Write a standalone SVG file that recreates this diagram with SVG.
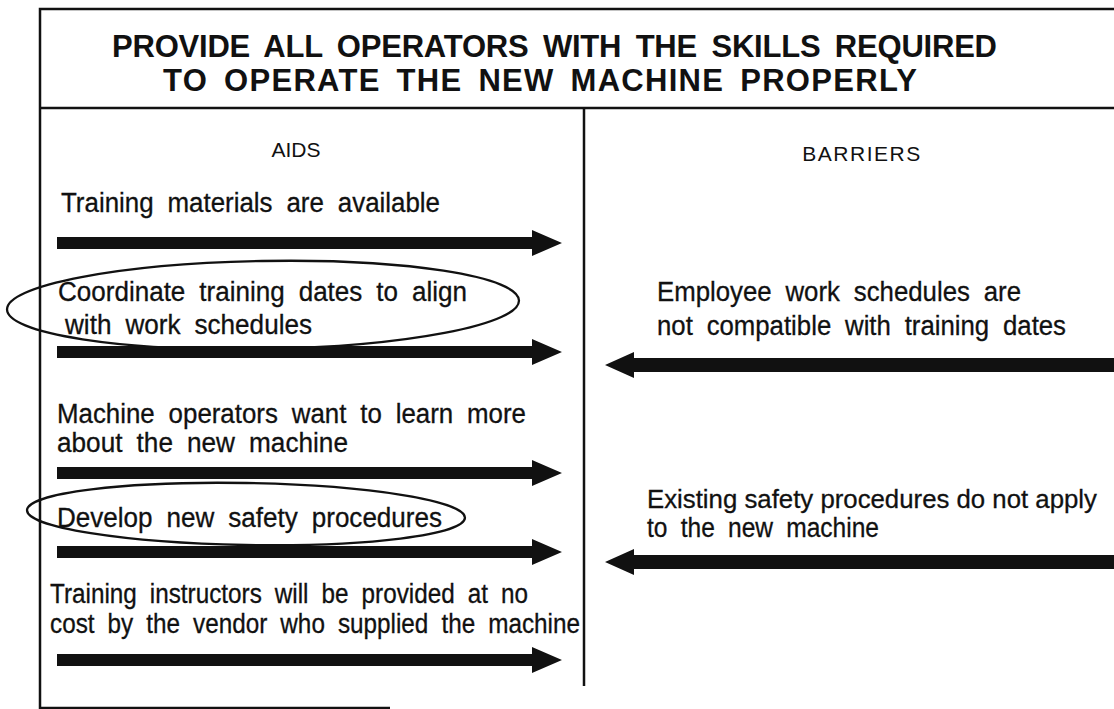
<svg xmlns="http://www.w3.org/2000/svg" width="1114" height="709" viewBox="0 0 1114 709">
  <style>
    .frame { stroke: #111; stroke-width: 2.5; fill: none; }
    .title { font-family: "Liberation Sans", Arial, sans-serif; font-weight: bold; font-size: 31px; word-spacing: 6px; fill: #111; }
    .head { font-family: "Liberation Sans", Arial, sans-serif; font-size: 21px; fill: #111; }
    .item { font-family: "Liberation Sans Narrow", "Liberation Sans", Arial, sans-serif; font-size: 27px; word-spacing: 7px; fill: #111; stroke: #111; stroke-width: 0.3; }
    .item.tight { font-size: 26px; word-spacing: 0; }
    .ring { stroke: #111; stroke-width: 2.3; fill: none; }
    .arrow { fill: #111; }
  </style>
  <defs>
    <!-- thick block arrows, centred on y = 0 -->
    <path id="arrow-right" d="M57,-6 H532 V-13 L562,0 L532,13 V6 H57 Z"/>
    <path id="arrow-left" d="M1114,-7 H634 V-13 L605,0 L634,13 V7 H1114 Z"/>
  </defs>

  <rect width="1114" height="709" fill="#fff"/>

  <!-- frame and column dividers -->
  <g id="frame">
    <path class="frame" d="M1114,9 H40 V708 H390"/>
    <path class="frame" d="M40,108 H1114"/>
    <path class="frame" d="M584,108 V686"/>
  </g>

  <g id="title">
    <text class="title" x="112" y="57" textLength="885" lengthAdjust="spacing">PROVIDE ALL OPERATORS WITH THE SKILLS REQUIRED</text>
    <text class="title" x="163" y="91" textLength="754" lengthAdjust="spacing">TO OPERATE THE NEW MACHINE PROPERLY</text>
  </g>

  <g id="aids-header">
    <text class="head" x="296" y="157" text-anchor="middle">AIDS</text>
  </g>
  <g id="barriers-header">
    <text class="head" x="862" y="161" text-anchor="middle" letter-spacing="1.5">BARRIERS</text>
  </g>

  <!-- aids -->
  <g id="aid-materials">
    <text class="item" x="61" y="212" textLength="379" lengthAdjust="spacingAndGlyphs">Training materials are available</text>
  </g>
  <g id="aid-coordinate">
    <ellipse class="ring" cx="263" cy="305" rx="256" ry="44" transform="rotate(-1 263 305)"/>
    <text class="item" x="58" y="301" textLength="409" lengthAdjust="spacingAndGlyphs">Coordinate training dates to align</text>
    <text class="item" x="65" y="334" textLength="247" lengthAdjust="spacingAndGlyphs">with work schedules</text>
  </g>
  <g id="aid-operators">
    <text class="item" x="57" y="423" textLength="469" lengthAdjust="spacingAndGlyphs">Machine operators want to learn more</text>
    <text class="item" x="57" y="452" textLength="291" lengthAdjust="spacingAndGlyphs">about the new machine</text>
  </g>
  <g id="aid-safety">
    <ellipse class="ring" cx="246" cy="514" rx="219" ry="31" transform="rotate(1 246 514)"/>
    <text class="item" x="57" y="527" textLength="385" lengthAdjust="spacingAndGlyphs">Develop new safety procedures</text>
  </g>
  <g id="aid-instructors">
    <text class="item" x="50" y="603" textLength="478" lengthAdjust="spacingAndGlyphs">Training instructors will be provided at no</text>
    <text class="item" x="50" y="633" textLength="530" lengthAdjust="spacingAndGlyphs">cost by the vendor who supplied the machine</text>
  </g>

  <!-- barriers -->
  <g id="barrier-schedules">
    <text class="item" x="657" y="301" textLength="364" lengthAdjust="spacingAndGlyphs">Employee work schedules are</text>
    <text class="item" x="657" y="335" textLength="409" lengthAdjust="spacingAndGlyphs">not compatible with training dates</text>
  </g>
  <g id="barrier-procedures">
    <text class="item tight" x="647" y="508" textLength="450" lengthAdjust="spacingAndGlyphs">Existing safety procedures do not apply</text>
    <text class="item" x="647" y="537" textLength="232" lengthAdjust="spacingAndGlyphs">to the new machine</text>
  </g>

  <!-- force arrows -->
  <g id="connectors" class="arrow">
    <use href="#arrow-right" transform="translate(0,243)"/>
    <use href="#arrow-right" transform="translate(0,352)"/>
    <use href="#arrow-right" transform="translate(0,473)"/>
    <use href="#arrow-right" transform="translate(0,552)"/>
    <use href="#arrow-right" transform="translate(0,660)"/>
    <use href="#arrow-left" transform="translate(0,365)"/>
    <use href="#arrow-left" transform="translate(0,562)"/>
  </g>
</svg>
